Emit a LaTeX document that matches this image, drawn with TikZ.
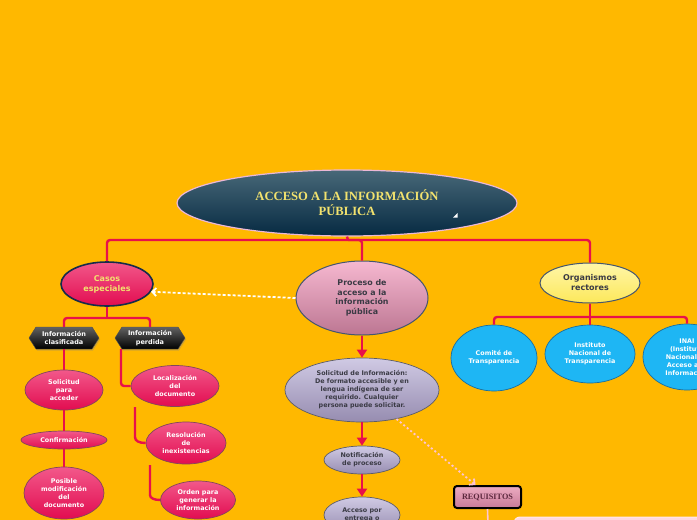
\documentclass[tikz,border=0pt]{standalone}
\usepackage{fontspec}
\setmainfont{Liberation Serif}
\newfontfamily\dvs{DejaVu Sans}
\usetikzlibrary{shapes.geometric,shapes.symbols,arrows.meta,shadows,calc}
\definecolor{bgc}{RGB}{255,184,0}
\definecolor{lred}{RGB}{232,16,74}
\definecolor{tt1}{RGB}{72,104,120}
\definecolor{tt2}{RGB}{6,42,66}
\definecolor{tbord}{RGB}{236,184,214}
\definecolor{ttext}{RGB}{242,226,110}
\definecolor{pk1}{RGB}{242,88,138}
\definecolor{pk2}{RGB}{226,12,80}
\definecolor{pkb}{RGB}{130,70,90}
\definecolor{navy}{RGB}{22,44,74}
\definecolor{pr1}{RGB}{246,184,208}
\definecolor{pr2}{RGB}{188,118,146}
\definecolor{darkt}{RGB}{58,58,68}
\definecolor{yel}{RGB}{255,240,112}
\definecolor{yel2}{RGB}{252,232,90}
\definecolor{blu}{RGB}{30,182,244}
\definecolor{blub}{RGB}{24,110,160}
\definecolor{lv1}{RGB}{208,202,228}
\definecolor{lv2}{RGB}{150,140,176}
\definecolor{lvb}{RGB}{92,92,104}
\definecolor{rq1}{RGB}{236,172,194}
\definecolor{rq2}{RGB}{200,122,152}
\definecolor{rqt}{RGB}{92,40,62}
\definecolor{pale}{RGB}{255,216,226}
\definecolor{palel}{RGB}{255,196,212}
\begin{document}
\begin{tikzpicture}[x=1pt,y=-1pt,
  conn/.style={draw=lred,line width=2.4pt,rounded corners=3pt},
  arr/.style={conn,-{Triangle[width=10pt,length=8pt]}},
  el/.style={ellipse,inner sep=0pt,align=center,font=\dvs\bfseries\fontsize{6.4}{8}\selectfont},
  pinkn/.style={el,top color=pk1,bottom color=pk2,draw=pkb,line width=0.7pt,text=white},
  bluen/.style={el,fill=blu,draw=blub,line width=0.7pt,text=white},
  lavn/.style={el,top color=lv1,bottom color=lv2,draw=lvb,line width=0.7pt,text=darkt},
  hexn/.style={signal,signal to=west and east,signal pointer angle=115,
    minimum width=70pt,minimum height=22pt,inner sep=0pt,align=center,
    top color=black!62,bottom color=black,draw=black!70,text=white,
    font=\dvs\bfseries\fontsize{6.5}{8.5}\selectfont,
    drop shadow={shadow xshift=1pt,shadow yshift=-1.5pt,opacity=0.35}}
]
\useasboundingbox (0,0) rectangle (697,520);
\fill[bgc] (0,0) rectangle (697,520);
\clip (0,0) rectangle (697,520);

% ---------- nodes ----------
\node[ellipse,minimum width=340pt,minimum height=66pt,inner sep=0pt,
  top color=tt1,bottom color=tt2,draw=tbord,line width=1.2pt,
  text=ttext,align=center,font=\bfseries\fontsize{12.6}{15}\selectfont]
  (title) at (347,203) {\raisebox{0pt}[\height][\depth]{}ACCESO A LA INFORMACIÓN\\PÚBLICA};
\fill[white] (453,217.5) -- (457.5,217.5) -- (457.5,213) -- cycle;

\node[el,minimum width=92pt,minimum height=44pt,top color=pk1,bottom color=pk2,
  draw=navy,line width=1.6pt,text=ttext,font=\dvs\bfseries\fontsize{8}{10}\selectfont]
  (casos) at (107,284) {Casos\\especiales};
\node[el,minimum width=132pt,minimum height=74pt,top color=pr1,bottom color=pr2,
  draw=navy!80,line width=1pt,text=darkt,font=\dvs\bfseries\fontsize{7.9}{9.6}\selectfont]
  (proc) at (362,298) {Proceso de\\acceso a la\\información\\pública};
\node[el,minimum width=100pt,minimum height=40pt,top color=yel!60!white,bottom color=yel2,
  draw=navy!80,line width=1pt,text=darkt,font=\dvs\bfseries\fontsize{8}{10}\selectfont]
  (org) at (590,283) {Organismos\\rectores};

\node[hexn] (hex1) at (64,338) {Información\\clasificada};
\node[hexn] (hex2) at (150,338) {Información\\perdida};

\node[pinkn,minimum width=78pt,minimum height=40pt] (sol) at (64,390) {Solicitud\\para\\acceder};
\node[pinkn,minimum width=86pt,minimum height=18pt] (conf) at (64,440) {Confirmación};
\node[pinkn,minimum width=80pt,minimum height=52pt] (pos) at (64,493) {Posible\\modificación\\del\\documento};

\node[pinkn,minimum width=88pt,minimum height=41pt] (loc) at (175,386) {Localización\\del\\documento};
\node[pinkn,minimum width=80pt,minimum height=42pt] (res) at (186,443) {Resolución\\de\\inexistencias};
\node[pinkn,minimum width=75pt,minimum height=38pt] (ord) at (198,500) {Orden para\\generar la\\información};

\node[lavn,minimum width=154pt,minimum height=64pt,font=\dvs\bfseries\fontsize{6.4}{8}\selectfont]
  (solinf) at (362,390) {Solicitud de Información:\\De formato accesible y en\\lengua indígena de ser\\requirido. Cualquier\\persona puede solicitar.};
\node[lavn,minimum width=76pt,minimum height=28pt] (not) at (362,460) {Notificación\\de proceso};
\node[lavn,minimum width=76pt,minimum height=36pt] (acc) at (362,515) {Acceso por\\entrega o};

\node[bluen,minimum width=86pt,minimum height=66pt] (com) at (494,358) {Comité de\\Transparencia};
\node[bluen,minimum width=90pt,minimum height=58pt] (ins) at (590,354) {Instituto\\Nacional de\\Transparencia};
\node[bluen,minimum width=88pt,minimum height=66pt] (inai) at (687,357) {INAI\\(Instituto\\Nacional de\\Acceso a la\\Información};

\node[rectangle,rounded corners=3pt,minimum width=67pt,minimum height=22pt,inner sep=0pt,
  top color=rq1,bottom color=rq2,draw=black,line width=2pt,text=rqt,
  font=\bfseries\fontsize{8.2}{9}\selectfont] (req) at (487.5,497) {REQUISITOS};
\node[rectangle,rounded corners=6pt,minimum width=200pt,minimum height=30pt,
  fill=pale,draw=pale!60!white,line width=1pt] (pbox) at (614,532) {};

% ---------- connectors ----------
\coordinate (hb) at (348,240);
\draw[conn] (title.south) -- (hb);
\draw[conn] (casos.north) |- (hb) -| (org.north);
\draw[conn] (hb) -| (proc.north);

\coordinate (cb) at (107,318);
\draw[conn] (casos.south) -- (cb);
\draw[conn] (hex1.north) |- (cb) -| (hex2.north);
\draw[conn] (hex1.south) -- (sol.north);
\draw[conn] (sol.south) -- (conf.north);
\draw[conn] (conf.south) -- (pos.north);
\draw[conn] ([xshift=-29pt]hex2.south) |- (loc.west);
\coordinate (l1) at (135,407);
\draw[conn] (l1) -- (135,434) .. controls (135,441) and (139,443) .. (res.west);
\coordinate (l2) at (150,465);
\draw[conn] (l2) -- (150,492) .. controls (150,498) and (154,500) .. (ord.west);

\draw[arr] (proc.south) -- (solinf.north);
\draw[arr] (solinf.south) -- (not.north);
\draw[arr] (not.south) -- (acc.north);

\coordinate (ob) at (590,317);
\draw[conn] (org.south) -- (ob);
\draw[conn] (com.north) |- (ob) -| (inai.north);
\draw[conn] (ob) -- (ins.north);

\draw[white,line width=1.8pt,dash pattern=on 3pt off 2pt,-{Straight Barb[length=4pt,width=8pt]}]
  (proc.west) -- (casos.-10);
\draw[palel,line width=1.8pt,dash pattern=on 2pt off 2.5pt,-{Straight Barb[length=4pt,width=8pt]}]
  (solinf.-40) -- ([xshift=-12pt]req.north);
\coordinate (rqe) at (488,525);
\draw[palel,line width=1.6pt] (req.south) -- (rqe);
\end{tikzpicture}
\end{document}
